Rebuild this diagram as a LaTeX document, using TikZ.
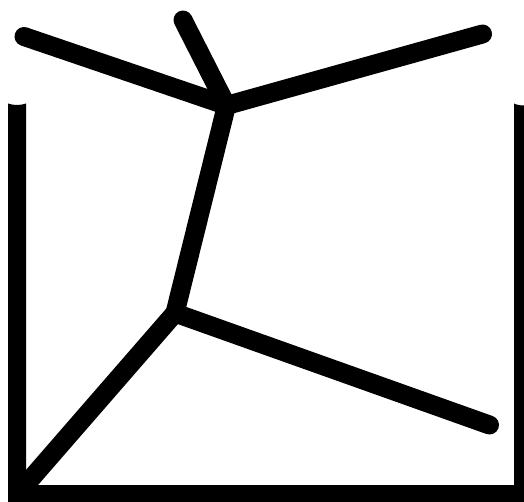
\documentclass[tikz,border=0pt]{standalone}
\tikzset{beam/.style={line width=19pt,line cap=round,line join=round,black},
wall/.style={fill=black,draw=none}}
\begin{document}
\begin{tikzpicture}[x=1pt,y=-1pt]
\useasboundingbox (0,0) rectangle (524,502);
\fill[white] (0,0) rectangle (524,502);
\coordinate (tl) at (24,36.5);
\coordinate (tt) at (183,20);
\coordinate (tr) at (482.5,34);
\coordinate (j1) at (226.5,105.5);
\coordinate (j2) at (175,313);
\coordinate (br) at (489.5,425);
\coordinate (bl) at (18.5,493);
\fill[wall] (8,103.5) .. controls (13,105.5) and (21,105.5) .. (26,103.5) -- (26,485) -- (514,485) -- (514,103.5) .. controls (517,105) and (521,105.5) .. (524,105.5) -- (524,502) -- (8,502) -- cycle;
\draw[beam] (tl) -- (j1) -- (tr);
\draw[beam] (tt) -- (j1) -- (j2) -- (br);
\draw[beam,line cap=butt] (j2) -- (bl);
\end{tikzpicture}
\end{document}
